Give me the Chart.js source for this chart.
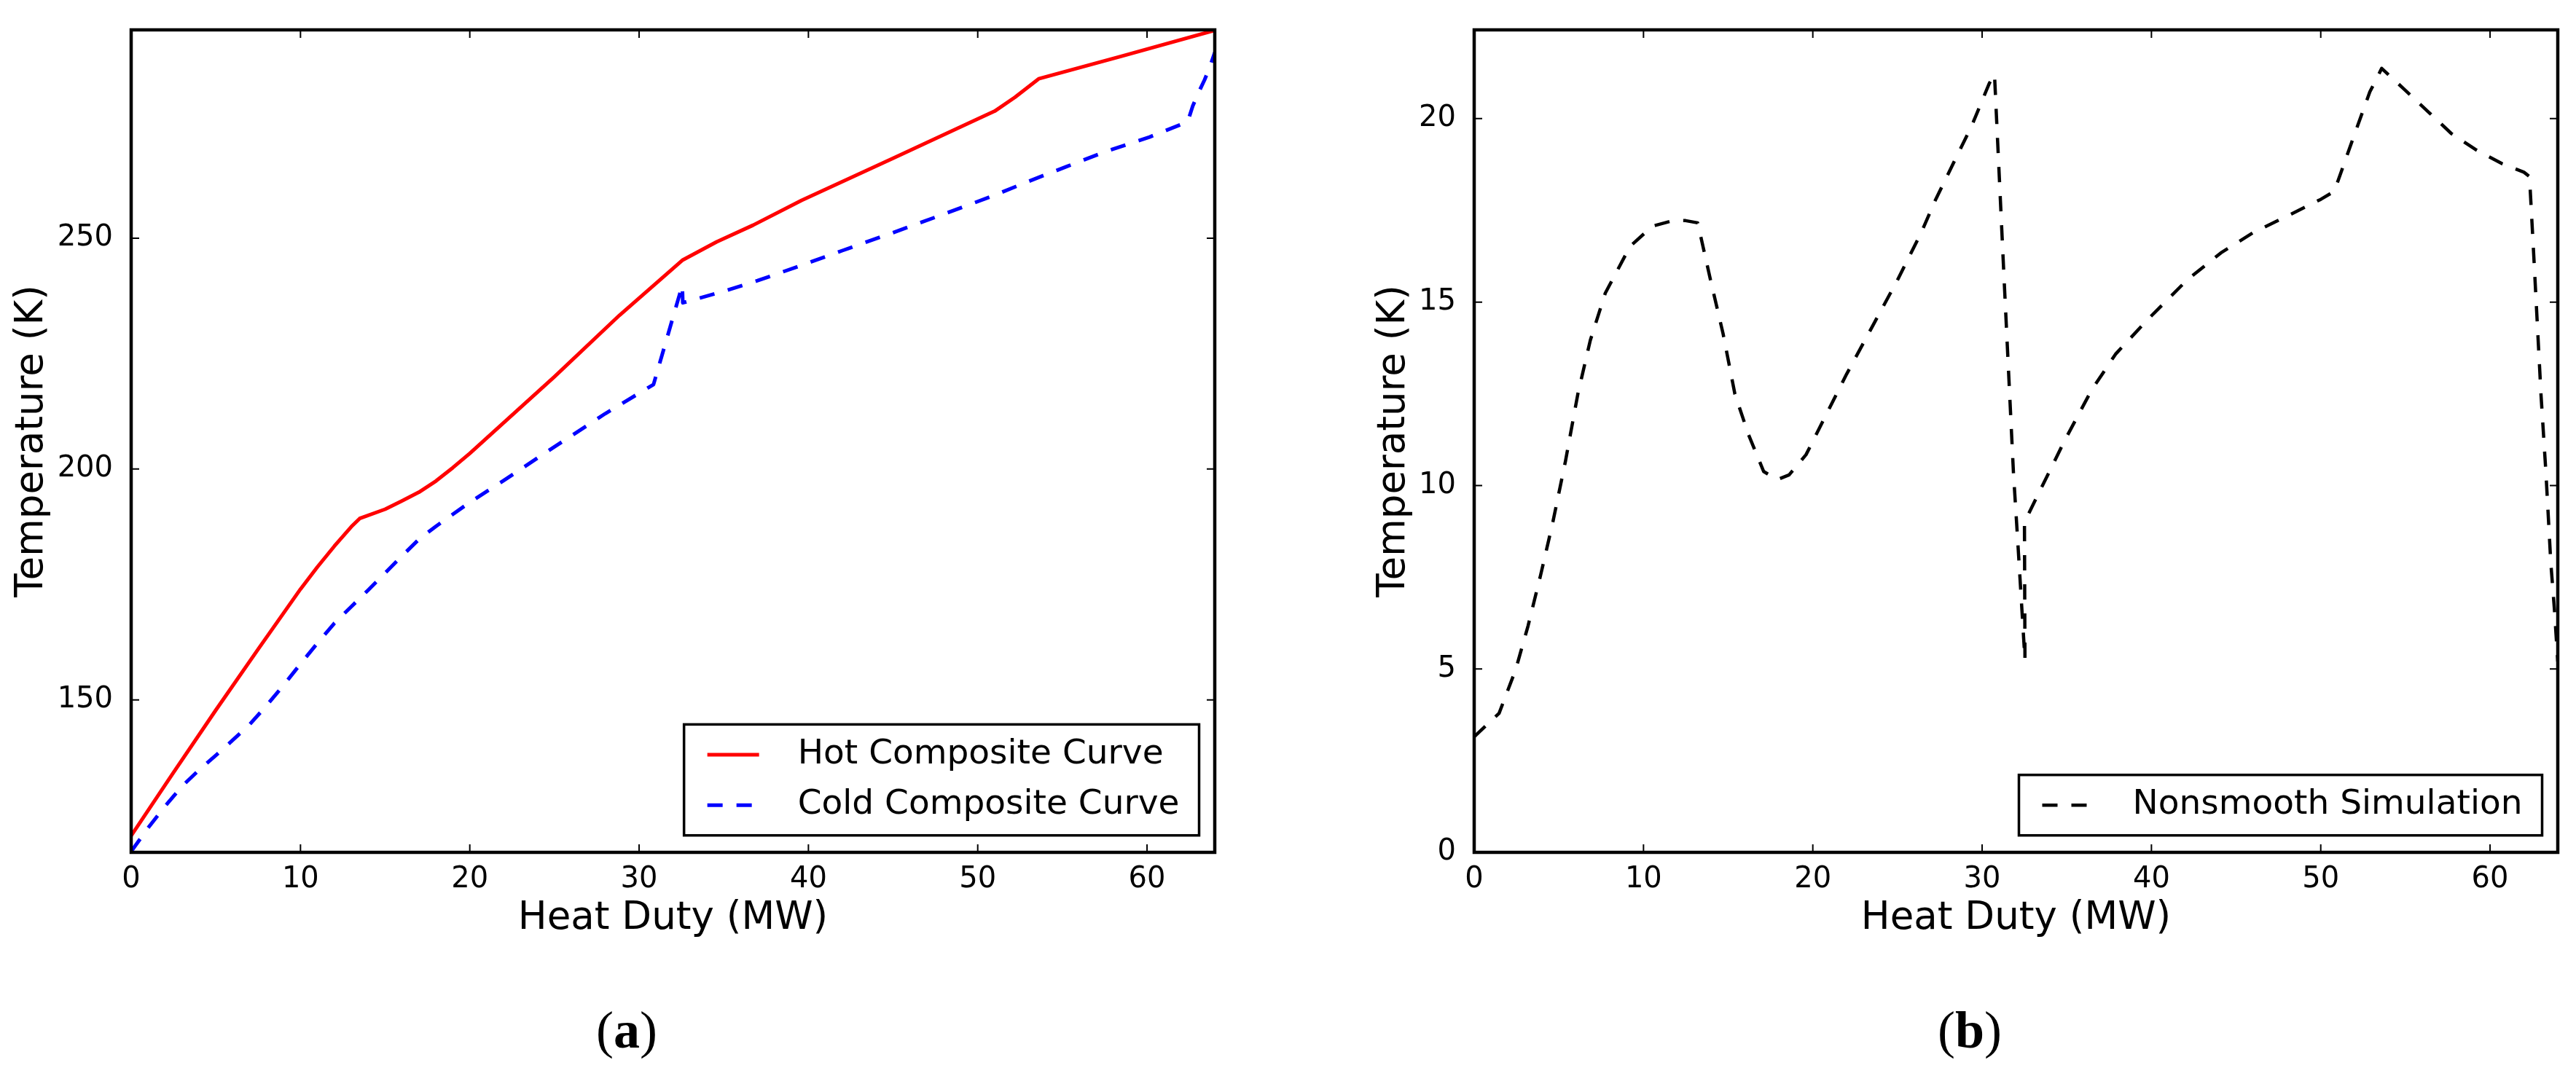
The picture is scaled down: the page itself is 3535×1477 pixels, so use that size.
<!DOCTYPE html>
<html>
<head>
<meta charset="utf-8">
<title>Composite curves and nonsmooth simulation</title>
<script src="https://cdn.jsdelivr.net/npm/chart.js@4.4.1/dist/chart.umd.min.js"></script>
<style>
  html, body { margin: 0; padding: 0; background: #fff; }
  body { width: 3535px; height: 1477px; position: relative; overflow: hidden; }
  canvas { position: absolute; top: 0; }
  #chartA { left: 0; }
  #chartB { left: 1767px; }
  .caption {
    position: absolute;
    top: 1378px;
    width: 400px;
    text-align: center;
    font: 72px/72px "Liberation Serif", serif;
    color: #000;
  }
</style>
</head>
<body>
<canvas id="chartA" width="1767" height="1477"></canvas>
<canvas id="chartB" width="1768" height="1477"></canvas>
<div class="caption" style="left:660px">(<b>a</b>)</div>
<div class="caption" style="left:2503px">(<b>b</b>)</div>
<script>
// tick values
const heatDutyTicks = [0, 10, 20, 30, 40, 50, 60];
const tempTicksA = [150, 200, 250];
const tempTicksB = [0, 5, 10, 15, 20];

// (a) hot composite curve
const hotDuty = [0, 2.5, 5, 7.5, 10, 11, 12, 13, 13.5, 15, 16, 17, 18, 19, 20, 25, 28.84, 32.55, 34.58, 36.73, 39.6, 45, 50, 51, 52.2, 53.6, 58.5, 64];
const hotTemp = [120.6, 134.3, 147.8, 161, 174, 178.8, 183.3, 187.5, 189.3, 191.3, 193.1, 195, 197.4, 200.3, 203.4, 220, 233.3, 245.2, 249.2, 252.8, 258.2, 267.3, 275.8, 277.5, 280.5, 284.5, 289.4, 295];

// (a) cold composite curve
const coldDuty = [0, 1, 2, 3, 4, 5, 6, 7, 8, 9, 10, 11, 12, 13, 14, 15, 16, 17, 18, 20, 22, 24, 26, 28, 30.85, 32.55, 32.58, 35, 37, 39.5, 42, 45, 48, 51, 53, 55.25, 57.6, 60.15, 62.4, 62.7, 63, 63.4, 63.7, 64];
const coldTemp = [117.2, 122.3, 127, 131.3, 134.8, 138, 141.3, 144.7, 148.8, 153.2, 157.8, 162.3, 166.6, 170.2, 173.8, 177.5, 181.2, 184.8, 187.6, 192.8, 197.5, 202.4, 207.2, 212, 218.3, 239.8, 236, 238.5, 240.8, 244, 247.3, 251.2, 255.2, 259.3, 262.3, 265.5, 268.8, 271.9, 275.2, 278.6, 281.2, 284.3, 287, 290.2];

// (b) nonsmooth simulation
const simDuty = [0, 1.47, 2.45, 3.18, 3.92, 4.65, 5.39, 6.12, 6.86, 7.74, 9.21, 10.53, 11.75, 12.49, 13.2, 13.96, 14.7, 15.4, 16.2, 17.1, 17.9, 18.6, 19.6, 20.6, 22, 23.5, 25, 26.4, 27.26, 29.4, 30.42, 30.73, 31.28, 31.85, 32.07, 32.53, 32.5, 33.29, 34.87, 36.45, 37.88, 39.75, 42.1, 44.1, 46, 48, 50, 50.8, 51.9, 52.9, 53.6, 54.98, 56.41, 57.7, 59.14, 60.72, 62, 62.33, 62.59, 63.01, 63.3, 63.59, 63.8, 64];
const simTemp = [3.15, 3.79, 4.98, 6.17, 7.55, 9.01, 10.66, 12.49, 13.96, 15.24, 16.52, 17.07, 17.22, 17.22, 17.16, 15.6, 14.14, 12.49, 11.39, 10.38, 10.16, 10.29, 10.84, 11.76, 13.04, 14.32, 15.6, 16.89, 17.8, 19.82, 20.96, 21.21, 15.8, 10.35, 8.74, 5.25, 9, 9.74, 11.22, 12.59, 13.58, 14.51, 15.6, 16.34, 16.89, 17.34, 17.8, 18.02, 19.45, 20.73, 21.37, 20.78, 20.16, 19.6, 19.16, 18.77, 18.54, 18.42, 16.19, 12.47, 10.35, 7.88, 6.63, 5.2];

Chart.defaults.font.family = '"DejaVu Sans", sans-serif';
Chart.defaults.color = '#000';

function toPoints(xs, ys) {
  return xs.map((x, i) => ({ x, y: ys[i] }));
}

// matplotlib-like box: frame plus inward ticks on all four sides
const frameTicks = {
  id: 'frameTicks',
  afterDatasetsDraw(chart) {
    const { ctx, chartArea: a, scales } = chart;
    const len = 11;
    ctx.save();
    ctx.strokeStyle = '#000';
    ctx.lineWidth = 2;
    ctx.beginPath();
    scales.x.ticks.forEach((t) => {
      const px = scales.x.getPixelForValue(t.value);
      ctx.moveTo(px, a.bottom);
      ctx.lineTo(px, a.bottom - len);
      ctx.moveTo(px, a.top);
      ctx.lineTo(px, a.top + len);
    });
    scales.y.ticks.forEach((t) => {
      const py = scales.y.getPixelForValue(t.value);
      ctx.moveTo(a.left, py);
      ctx.lineTo(a.left + len, py);
      ctx.moveTo(a.right, py);
      ctx.lineTo(a.right - len, py);
    });
    ctx.stroke();
    ctx.lineWidth = 4.5;
    ctx.strokeRect(a.left, a.top, a.right - a.left, a.bottom - a.top);
    ctx.restore();
  }
};

// legend box in the lower right corner of the plot area
const boxLegend = {
  id: 'boxLegend',
  afterDraw(chart, args, opts) {
    const { ctx, chartArea: area } = chart;
    const items = chart.data.datasets;
    ctx.save();
    ctx.font = `${opts.fontSize}px "DejaVu Sans"`;
    const textW = Math.max(...items.map((ds) => ctx.measureText(ds.label).width));
    const w = opts.textX + textW + opts.padRight;
    const h = opts.padY * 2 + (items.length - 1) * opts.rowGap;
    const left = area.right - opts.right - w;
    const top = area.bottom - opts.bottom - h;

    ctx.fillStyle = '#fff';
    ctx.fillRect(left, top, w, h);
    ctx.lineWidth = opts.borderWidth;
    ctx.strokeStyle = '#000';
    ctx.strokeRect(left, top, w, h);

    items.forEach((ds, i) => {
      const cy = top + opts.padY + i * opts.rowGap;
      ctx.beginPath();
      ctx.setLineDash(ds.borderDash || []);
      ctx.strokeStyle = ds.borderColor;
      ctx.lineWidth = ds.borderWidth;
      ctx.moveTo(left + opts.sampleFrom, cy);
      ctx.lineTo(left + opts.sampleTo, cy);
      ctx.stroke();
      ctx.setLineDash([]);
      ctx.fillStyle = '#000';
      ctx.textBaseline = 'middle';
      ctx.textAlign = 'left';
      ctx.fillText(ds.label, left + opts.textX, cy);
    });
    ctx.restore();
  }
};

function buildChart(canvasId, datasets, cfg) {
  return new Chart(document.getElementById(canvasId), {
    type: 'line',
    data: { datasets },
    options: {
      responsive: false,
      animation: false,
      devicePixelRatio: 1,
      events: [],
      layout: { padding: { top: 18, left: 0, right: cfg.padRight, bottom: 0 } },
      elements: { point: { radius: 0 }, line: { tension: 0 } },
      scales: {
        x: {
          type: 'linear',
          min: 0,
          max: 64,
          grid: { display: false },
          border: { display: false },
          afterBuildTicks: (scale) => {
            scale.ticks = heatDutyTicks.map((v) => ({ value: v }));
          },
          afterFit: (scale) => {
            scale.height = 307;
          },
          ticks: { font: { size: 40 }, padding: 6, maxRotation: 0, autoSkip: false },
          title: {
            display: true,
            text: 'Heat Duty (MW)',
            font: { size: 53, lineHeight: 1.2 },
            padding: { top: 0, bottom: 183.5 }
          }
        },
        y: {
          type: 'linear',
          min: cfg.yMin,
          max: cfg.yMax,
          grid: { display: false },
          border: { display: false },
          afterBuildTicks: (scale) => {
            scale.ticks = cfg.yTicks.map((v) => ({ value: v }));
          },
          afterFit: (scale) => {
            scale.width = cfg.yAxisWidth;
          },
          ticks: { font: { size: 40 }, padding: 17, autoSkip: false },
          title: {
            display: true,
            text: 'Temperature (K)',
            font: { size: 53, lineHeight: 1.2 },
            padding: { top: cfg.yTitlePad, bottom: 0 }
          }
        }
      },
      plugins: {
        legend: { display: false },
        tooltip: { enabled: false },
        boxLegend: {
          fontSize: 47,
          right: 21.5,
          bottom: 23.3,
          padY: 41.5,
          rowGap: 69.3,
          sampleFrom: 32,
          sampleTo: 103,
          textX: 156,
          padRight: 27,
          borderWidth: 3.5
        }
      }
    },
    plugins: [frameTicks, boxLegend]
  });
}

buildChart('chartA', [
  {
    label: 'Hot Composite Curve',
    data: toPoints(hotDuty, hotTemp),
    borderColor: '#ff0000',
    borderWidth: 5,
    borderJoinStyle: 'round',
    fill: false
  },
  {
    label: 'Cold Composite Curve',
    data: toPoints(coldDuty, coldTemp),
    borderColor: '#0000ff',
    borderWidth: 5,
    borderDash: [21, 19],
    borderJoinStyle: 'round',
    fill: false
  }
], { yMin: 117, yMax: 295.1, yTicks: tempTicksA, yAxisWidth: 180, yTitlePad: 12.2, padRight: 100 });

buildChart('chartB', [
  {
    label: 'Nonsmooth Simulation',
    data: toPoints(simDuty, simTemp),
    borderColor: '#000000',
    borderWidth: 4.5,
    borderDash: [21, 19],
    borderJoinStyle: 'round',
    fill: false
  }
], { yMin: 0, yMax: 22.42, yTicks: tempTicksB, yAxisWidth: 256, yTitlePad: 114.2, padRight: 25 });
</script>
</body>
</html>
